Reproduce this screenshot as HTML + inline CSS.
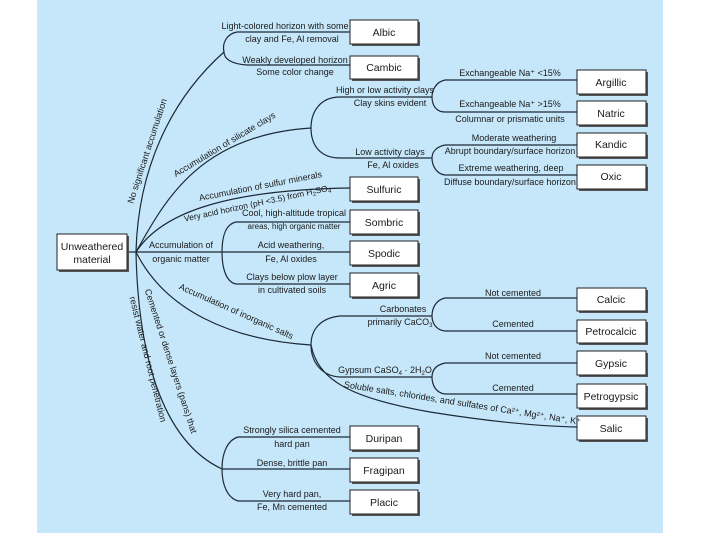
<!DOCTYPE html>
<html><head><meta charset="utf-8"><style>
html,body{margin:0;padding:0;background:#fff;}
svg{display:block;}
text{font-family:"Liberation Sans Narrow","Liberation Sans",sans-serif;font-size:9px;fill:#1a1a1a;}
.b{font-size:10.5px;}
</style></head><body>
<svg width="720" height="540" viewBox="0 0 720 540" xmlns="http://www.w3.org/2000/svg">
<rect x="37" y="0" width="626" height="533" fill="#c6e7fa"/>
<g fill="none" stroke="#1d2a36" stroke-width="1.2">
<path d="M136,252 C138,170 170,100 224,52"/>
<path d="M237,32 C226,34 222,44 224,52 C224,58 230,64 247,65"/>
<path d="M237,32 L350,32 M247,65 L350,65"/>
<path d="M136,252 C165,200 200,135 311,128"/>
<path d="M340,97 C320,97 311,112 311,128 C311,145 320,158 340,158"/>
<path d="M340,97 L432,97 M340,158 L432,158"/>
<path d="M445,80 C436,82 432,90 432,97 C432,105 436,112 445,112"/>
<path d="M445,80 L577,80 M445,112 L577,112"/>
<path d="M445,145 C436,147 432,152 432,158 C432,165 436,174 445,175"/>
<path d="M445,145 L577,145 M445,175 L577,175"/>
<path d="M136,252 C160,215 220,190 350,188"/>
<path d="M126,252 L350,252"/>
<path d="M236,222 C226,224 222,236 222,252 C222,268 226,282 236,284"/>
<path d="M236,222 L350,222 M236,284 L350,284"/>
<path d="M136,252 C165,310 230,340 311,345"/>
<path d="M340,316 C320,318 311,330 311,345 C311,360 320,376 340,377"/>
<path d="M340,316 L432,316 M340,377 L432,377"/>
<path d="M445,298 C436,300 432,308 432,316 C432,323 436,330 445,331"/>
<path d="M445,298 L577,298 M445,331 L577,331"/>
<path d="M445,363 C436,365 432,370 432,377 C432,385 436,393 445,394"/>
<path d="M445,363 L577,363 M445,394 L577,394"/>
<path d="M311,345 C318,380 350,398 430,412 C480,420 530,426 577,427"/>
<path d="M136,252 C138,350 160,440 222,469"/>
<path d="M238,437 C228,440 222,452 222,469 C222,486 228,498 238,501"/>
<path d="M238,437 L350,437 M222,469 L350,469 M238,501 L350,501"/>
</g>
<g>
<g fill="#555"><rect x="352" y="22" width="68" height="24"/><rect x="352" y="58" width="68" height="23"/><rect x="579" y="72" width="69" height="24"/><rect x="579" y="103" width="69" height="24"/><rect x="579" y="135" width="69" height="24"/><rect x="579" y="167" width="69" height="24"/><rect x="352" y="179" width="68" height="24"/><rect x="352" y="212" width="68" height="24"/><rect x="352" y="243" width="68" height="24"/><rect x="352" y="275" width="68" height="24"/><rect x="579" y="290" width="69" height="23"/><rect x="579" y="322" width="69" height="23"/><rect x="579" y="353" width="69" height="24"/><rect x="579" y="386" width="69" height="24"/><rect x="579" y="418" width="69" height="24"/><rect x="352" y="428" width="68" height="24"/><rect x="352" y="460" width="68" height="24"/><rect x="352" y="492" width="68" height="24"/><rect x="59" y="236" width="70" height="36"/></g>
<g fill="#fff" stroke="#222" stroke-width="1"><rect x="350" y="20" width="68" height="24"/><rect x="350" y="56" width="68" height="23"/><rect x="577" y="70" width="69" height="24"/><rect x="577" y="101" width="69" height="24"/><rect x="577" y="133" width="69" height="24"/><rect x="577" y="165" width="69" height="24"/><rect x="350" y="177" width="68" height="24"/><rect x="350" y="210" width="68" height="24"/><rect x="350" y="241" width="68" height="24"/><rect x="350" y="273" width="68" height="24"/><rect x="577" y="288" width="69" height="23"/><rect x="577" y="320" width="69" height="23"/><rect x="577" y="351" width="69" height="24"/><rect x="577" y="384" width="69" height="24"/><rect x="577" y="416" width="69" height="24"/><rect x="350" y="426" width="68" height="24"/><rect x="350" y="458" width="68" height="24"/><rect x="350" y="490" width="68" height="24"/><rect x="57" y="234" width="70" height="36"/></g>
<g text-anchor="middle" class="b">
<text class="b" x="384" y="36">Albic</text><text class="b" x="384" y="71">Cambic</text>
<text class="b" x="611" y="86">Argillic</text><text class="b" x="611" y="117">Natric</text>
<text class="b" x="611" y="148">Kandic</text><text class="b" x="611" y="180">Oxic</text>
<text class="b" x="384" y="193">Sulfuric</text><text class="b" x="384" y="226">Sombric</text>
<text class="b" x="384" y="257">Spodic</text><text class="b" x="384" y="289">Agric</text>
<text class="b" x="611" y="303">Calcic</text><text class="b" x="611" y="335">Petrocalcic</text>
<text class="b" x="611" y="367">Gypsic</text><text class="b" x="611" y="400">Petrogypsic</text>
<text class="b" x="611" y="432">Salic</text><text class="b" x="384" y="442">Duripan</text>
<text class="b" x="384" y="474">Fragipan</text><text class="b" x="384" y="506">Placic</text>
<text class="b" x="92" y="250">Unweathered</text><text class="b" x="92" y="263">material</text>
</g>
<g text-anchor="middle">
<text x="285" y="29">Light-colored horizon with some</text>
<text x="292" y="42">clay and Fe, Al removal</text>
<text x="295" y="63">Weakly developed horizon</text>
<text x="295" y="75">Some color change</text>
<text x="385" y="93">High or low activity clays</text>
<text x="390" y="106">Clay skins evident</text>
<text x="390" y="155">Low activity clays</text>
<text x="393" y="168">Fe, Al oxides</text>
<text x="510" y="76">Exchangeable Na⁺ &lt;15%</text>
<text x="510" y="107">Exchangeable Na⁺ &gt;15%</text>
<text x="510" y="122">Columnar or prismatic units</text>
<text x="514" y="141">Moderate weathering</text>
<text x="510" y="154">Abrupt boundary/surface horizon</text>
<text x="511" y="171">Extreme weathering, deep</text>
<text x="510" y="185">Diffuse boundary/surface horizon</text>
<text x="294" y="216">Cool, high-altitude tropical</text>
<text x="294" y="229" style="font-size:8px">areas, high organic matter</text>
<text x="181" y="248">Accumulation of</text>
<text x="181" y="262">organic matter</text>
<text x="291" y="248">Acid weathering,</text>
<text x="291" y="262">Fe, Al oxides</text>
<text x="292" y="280">Clays below plow layer</text>
<text x="292" y="293">in cultivated soils</text>
<text x="403" y="312">Carbonates</text>
<text x="400" y="325">primarily CaCO<tspan font-size="6" dy="2">3</tspan></text>
<text x="513" y="296">Not cemented</text>
<text x="513" y="327">Cemented</text>
<text x="513" y="359">Not cemented</text>
<text x="513" y="391">Cemented</text>
<text x="385" y="373">Gypsum CaSO<tspan font-size="6" dy="2">4</tspan><tspan dy="-2"> · 2H</tspan><tspan font-size="6" dy="2">2</tspan><tspan dy="-2">O</tspan></text>
<text x="292" y="433">Strongly silica cemented</text>
<text x="292" y="447">hard pan</text>
<text x="292" y="466">Dense, brittle pan</text>
<text x="292" y="497">Very hard pan,</text>
<text x="292" y="510">Fe, Mn cemented</text>
<text transform="translate(150,152) rotate(-72)">No significant accumulation</text>
<text transform="translate(226,147) rotate(-31)">Accumulation of silicate clays</text>
<text transform="translate(261,189) rotate(-11)">Accumulation of sulfur minerals</text>
<text transform="translate(258,206) rotate(-12)" style="font-size:8.5px">Very acid horizon (pH &lt;3.5) from H<tspan font-size="6" dy="2">2</tspan><tspan dy="-2">SO</tspan><tspan font-size="6" dy="2">4</tspan></text>
<text transform="translate(235,314) rotate(24)">Accumulation of inorganic salts</text>
<text transform="translate(462,406) rotate(9)">Soluble salts, chlorides, and sulfates of Ca²⁺, Mg²⁺, Na⁺, K⁺</text>
<text transform="translate(168,362) rotate(72)">Cemented or dense layers (pans) that</text>
<text transform="translate(145,360) rotate(76)">resist water and root penetration</text>
</g>
</g>
</svg>
</body></html>
